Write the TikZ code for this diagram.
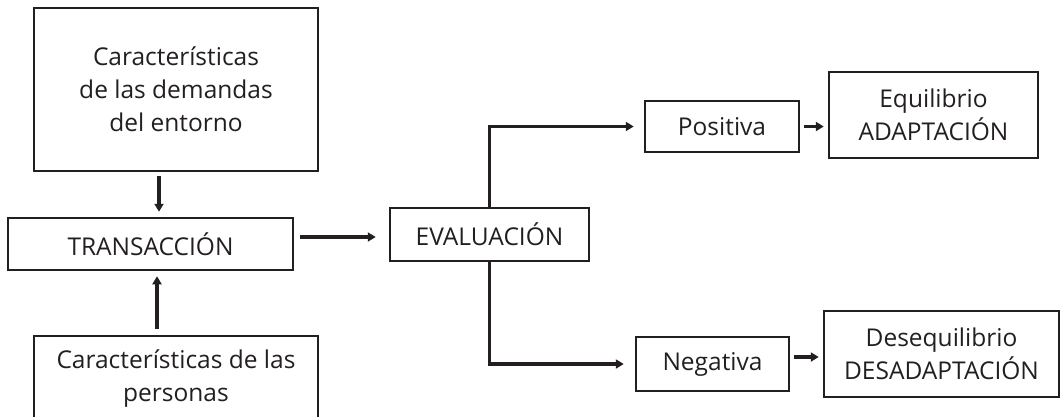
\documentclass[tikz,border=0pt]{standalone}
\usepackage{fontspec}
\setmainfont{Open Sans}
\usetikzlibrary{arrows.meta,calc}
\definecolor{ink}{HTML}{231F20}
\begin{document}
\begin{tikzpicture}[x=1pt,y=-1pt,
  box/.style={draw=ink, line width=2.5pt, rectangle, inner sep=0pt, align=center,
    text=ink, font=\fontsize{24.5}{33}\selectfont},
  arr/.style={draw=ink, line width=3.4pt, -{Triangle[length=8pt,width=9pt]}}]
\useasboundingbox (0,0) rectangle (1062,416);
% boxes
\node[box, minimum width=284pt, minimum height=163pt] (dem) at (176,89.5)
  {Características\\de las demandas\\del entorno};
\node[box, minimum width=285pt, minimum height=52pt] (tra) at (150.5,244) {TRANSACCIÓN};
\node[box, minimum width=284pt, minimum height=86pt] (per) at (176,379)
  {Características de las\\personas};
\node[box, minimum width=199pt, minimum height=53pt] (eva) at (489.5,234.5) {EVALUACIÓN};
\node[box, minimum width=154pt, minimum height=51pt] (pos) at (722,126.5) {Positiva};
\node[box, minimum width=153pt, minimum height=54pt] (neg) at (712.5,364) {Negativa};
\node[box, minimum width=209pt, minimum height=86pt] (equ) at (933.5,115)
  {Equilibrio\\ADAPTACIÓN};
\node[box, minimum width=235pt, minimum height=86pt] (des) at (941.5,354)
  {Desequilibrio\\DESADAPTACIÓN};
% guide coordinates for arrow lines
\coordinate (xa) at (159,0);
\coordinate (xb) at (157,0);
\coordinate (ya) at (0,237);
\coordinate (yb) at (0,357);
% connectors
\draw[arr, shorten <=4pt, shorten >=5pt] (dem.south -| xa) -- (tra.north -| xa);
\draw[arr, shorten <=6pt, shorten >=5pt] (per.north -| xb) -- (tra.south -| xb);
\draw[arr, shorten <=6pt, shorten >=13pt] (tra.east |- ya) -- (eva.west |- ya);
\draw[arr, shorten >=10pt] (eva.north) |- (pos.west);
\draw[arr, shorten >=11pt] (eva.south) |- (neg.west);
\draw[arr, shorten <=4pt, shorten >=4pt] (pos.east) -- (pos.east -| equ.west);
\draw[arr, shorten <=4pt, shorten >=4pt] (neg.east |- yb) -- (des.west |- yb);
\end{tikzpicture}
\end{document}
